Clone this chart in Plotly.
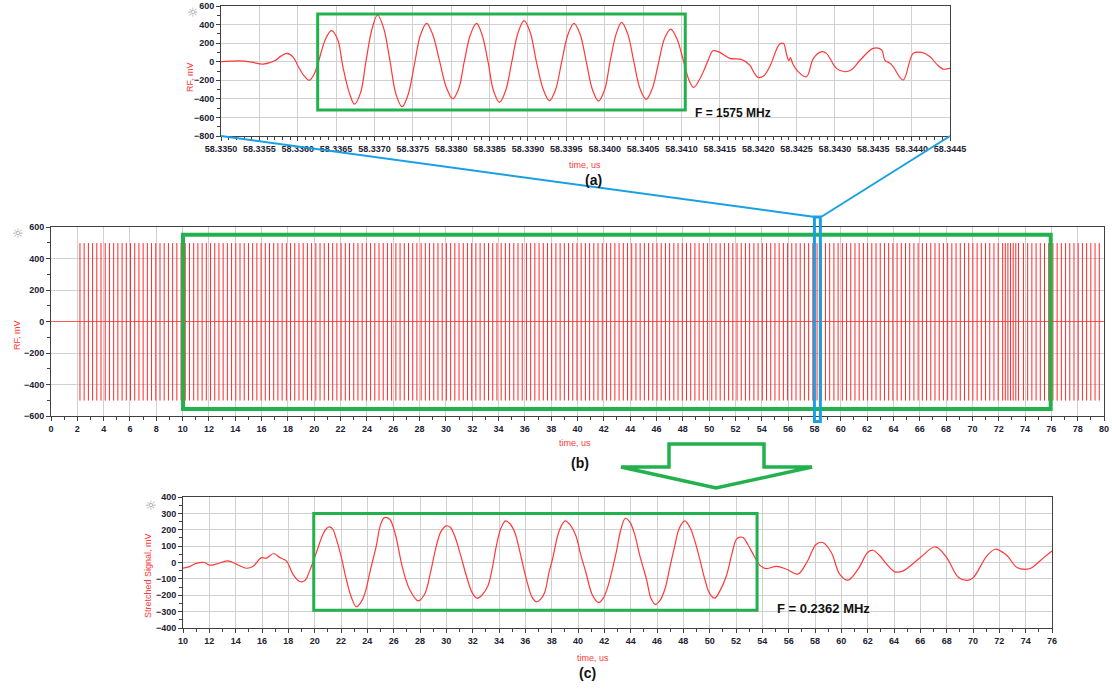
import plotly.graph_objects as go

W, H = 1112, 689

# ---------------- (a) RF burst around 58.335-58.3445 us ----------------
T_A = [58.33500, 58.33525, 58.33540, 58.33555, 58.33570, 58.33578, 58.33586,
       58.33594, 58.33600, 58.33608, 58.33615, 58.33621, 58.33627, 58.33636,
       58.33644, 58.33652, 58.33659, 58.33667, 58.33674, 58.33682, 58.33689,
       58.33697, 58.33704, 58.33712, 58.33720, 58.33728, 58.33736, 58.33744,
       58.33752, 58.33760, 58.33768, 58.33776, 58.33785, 58.33794, 58.33802,
       58.33810, 58.33817, 58.33825, 58.33833, 58.33840, 58.33848, 58.33855,
       58.33863, 58.33871, 58.33879, 58.33887, 58.33895, 58.33903, 58.33911,
       58.33920, 58.33928, 58.33936, 58.33944, 58.33952, 58.33960, 58.33968,
       58.33976, 58.33984, 58.33992, 58.34000, 58.34007, 58.34015, 58.34022,
       58.34030, 58.34038, 58.34046, 58.34054, 58.34062, 58.34070, 58.34078,
       58.34086, 58.34094, 58.34103, 58.34110, 58.34116, 58.34123, 58.34130,
       58.34136, 58.34141, 58.34150, 58.34163, 58.34178, 58.34189, 58.34194,
       58.34200, 58.34207, 58.34215, 58.34228, 58.34233, 58.34237, 58.34240,
       58.34242, 58.34245, 58.34251, 58.34263, 58.34272, 58.34283, 58.34289,
       58.34302, 58.34313, 58.34322, 58.34333, 58.34350, 58.34361, 58.34365,
       58.34372, 58.34376, 58.34389, 58.34402, 58.34413, 58.34424, 58.34433,
       58.34441, 58.34450]
V_A = [0, 8, -5, -25, 10, 60, 90,
       50, -40, -150, -200, -140, 0, 240,
       334, 240, -60, -330, -456, -330, 10,
       360, 503, 360, 20, -350, -485, -350,
       -30, 290, 413, 290, 0, -285, -399,
       -285, 0, 290, 413, 295, 0, -310,
       -438, -310, 0, 310, 442, 315, 0,
       -300, -420, -300, 0, 290, 413, 295,
       0, -300, -424, -300, 0, 300, 424,
       300, 0, -290, -406, -290, -20, 250,
       352, 250, 0, -200, -276, -200, -80,
       40, 118, 100, 36, 25, -36, -108,
       -169, -154, -54, 190, 197, 80, 10,
       45, -20, -97, -162, 36, 108, 90,
       -72, -108, -83, 18, 144, 126, 18,
       -18, -54, -197, 90, 100, 54, -29,
       -79, -72]

# ---------------- (b) full pulse train, 0-80 us ----------------
PULSE_T = [
    2.20, 2.52, 2.84, 3.16, 3.48, 3.80, 4.12, 4.44, 4.76, 5.08, 5.40, 5.72, 6.04,
    6.36, 6.68, 7.00, 7.32, 7.64, 7.96, 8.28, 8.60, 8.92, 9.24, 9.56, 9.88,
    10.20, 10.52, 10.84, 11.16, 11.48, 11.80, 12.12, 12.44, 12.76, 13.08, 13.40,
    13.72, 14.04, 14.36, 14.68, 15.00, 15.32, 15.64, 15.96, 16.28, 16.60, 16.92,
    17.24, 17.56, 17.88,
    18.20, 18.52, 18.84, 19.16, 19.48, 19.80, 20.12, 20.44, 20.76, 21.08, 21.40,
    21.72, 22.04, 22.36, 22.68, 23.00, 23.32, 23.64, 23.96, 24.28, 24.60, 24.92,
    25.24, 25.56, 25.88,
    26.20, 26.52, 26.84, 27.16, 27.48, 27.80, 28.12, 28.44, 28.76, 29.08, 29.40,
    29.72, 30.04, 30.36, 30.68, 31.00, 31.32, 31.64, 31.96, 32.28, 32.60, 32.92,
    33.24, 33.56, 33.88,
    34.20, 34.52, 34.84, 35.16, 35.48, 35.80, 36.12, 36.44, 36.76, 37.08, 37.40,
    37.72, 38.04, 38.36, 38.68, 39.00, 39.32, 39.64, 39.96, 40.28, 40.60, 40.92,
    41.24, 41.56, 41.88,
    42.20, 42.52, 42.84, 43.16, 43.48, 43.80, 44.12, 44.44, 44.76, 45.08, 45.40,
    45.72, 46.04, 46.36, 46.68, 47.00, 47.32, 47.64, 47.96, 48.28, 48.60, 48.92,
    49.24, 49.56, 49.88,
    50.20, 50.52, 50.84, 51.16, 51.48, 51.80, 52.12, 52.44, 52.76, 53.08, 53.40,
    53.72, 54.04, 54.36, 54.68, 55.00, 55.32, 55.64, 55.96, 56.28, 56.60, 56.92,
    57.24, 57.56, 57.88,
    58.20, 58.52, 58.84, 59.16, 59.48, 59.80, 60.12, 60.44, 60.76, 61.08, 61.40,
    61.72, 62.04, 62.36, 62.68, 63.00, 63.32, 63.64, 63.96, 64.28, 64.60, 64.92,
    65.24, 65.56, 65.88,
    66.20, 66.52, 66.84, 67.16, 67.48, 67.80, 68.12, 68.44, 68.76, 69.08, 69.40,
    69.72, 70.04, 70.36, 70.68, 71.00, 71.32, 71.64, 71.96, 72.30, 72.50, 72.70,
    72.90, 73.10, 73.30, 73.50, 73.88,
    74.20, 74.52, 74.84, 75.16, 75.48, 75.80, 76.12, 76.44, 76.76, 77.08, 77.40,
    77.72, 78.04, 78.36, 78.68, 79.00, 79.32, 79.64,
]
PULSE_TOP = 498
PULSE_BOTTOM = -502

# ---------------- (c) time-stretched signal ----------------
T_C = [10.0, 10.5, 11.0, 11.65, 12.0, 12.5, 13.4, 14.05, 14.8, 15.3, 15.95, 16.3,
       16.9, 17.35, 17.85, 18.35, 18.86, 19.24, 19.75, 20.13, 20.63, 20.9, 21.14,
       21.4, 21.57, 22.0, 22.4, 22.8, 23.16, 23.5, 23.8, 24.25, 24.68, 25.0, 25.3,
       25.7, 26.1, 26.7, 27.2, 27.85, 28.35, 28.8, 29.24, 29.6, 30.0, 30.3, 30.63,
       31.1, 31.52, 32.0, 32.35, 32.7, 33.16, 33.5, 33.8, 34.15, 34.5, 34.85, 35.2,
       35.6, 36.08, 36.5, 36.84, 37.15, 37.47, 37.8, 38.06, 38.6, 39.03, 39.4,
       39.84, 40.2, 40.6, 41.1, 41.56, 41.9, 42.25, 42.9, 43.25, 43.6, 43.95, 44.3,
       44.7, 45.2, 45.55, 45.88, 46.2, 46.6, 47.0, 47.35, 47.7, 48.1, 48.5, 48.87,
       49.25, 49.63, 50.0, 50.38, 50.8, 51.27, 51.65, 52.03, 52.3, 52.55, 52.9,
       53.3, 53.8, 54.3, 55.08, 55.84, 56.7, 57.37, 58.1, 58.6, 59.24, 59.87, 60.5,
       61.27, 62.0, 62.4, 62.93, 63.44, 64.08, 64.7, 66.0, 67.14, 68.0, 68.9,
       69.66, 70.04, 71.06, 71.7, 72.08, 72.6, 73.34, 74.1, 74.5, 75.37, 76.0]
V_C = [-35, -25, -5, 0, -16, -10, 10, -10, -35, -25, 30, 26,
       55, 30, 10, -71, -116, -112, -24, 61, 173, 208, 217,
       200, 163, 40, -102, -215, -270, -245, -192, -40, 102, 230, 274,
       264, 180, -41, -163, -234, -194, -60, 102, 190, 224, 215, 163,
       40, -81, -190, -218, -200, -142, -30, 102, 210, 254, 235, 183,
       60, -102, -210, -240, -225, -183, -60, 20, 200, 254, 230,
       163, 50, -61, -200, -244, -220, -152, 61, 200, 270, 245, 173,
       40, -102, -220, -256, -235, -163, -20, 102, 210, 254, 215, 132,
       20, -102, -190, -218, -170, -81, 40, 142, 155, 152, 110,
       51, -16, -37, -24, -41, -71, 0, 112, 122, 61, -71, -108,
       -41, 61, 75, 41, -10, -57, -51, 30, 96, 30, -91,
       -108, -91, 41, 81, 71, 41, -30, -41, -30, 30, 71]

RED = "#ff3838"
GREEN = "#22b14c"
BLUE = "#1aa0e2"
FONT = "Liberation Sans, Arial, sans-serif"


def px(x):
    return x / W


def py(y):
    return 1 - y / H


fig = go.Figure()

fig.add_trace(go.Scatter(
    x=T_A, y=V_A, mode="lines", xaxis="x", yaxis="y",
    line=dict(color=RED, width=1.2, shape="spline", smoothing=1.0),
    hoverinfo="skip"))

fig.add_trace(go.Scatter(
    x=[0, 80], y=[0, 0], mode="lines", xaxis="x2", yaxis="y2",
    line=dict(color="#ff5a5a", width=1), hoverinfo="skip"))

pulse_x, pulse_y = [], []
for t in PULSE_T:
    pulse_x += [t, t, None]
    pulse_y += [PULSE_BOTTOM, PULSE_TOP, None]
fig.add_trace(go.Scatter(
    x=pulse_x, y=pulse_y, mode="lines", xaxis="x2", yaxis="y2",
    line=dict(color="#ff2a2a", width=1), hoverinfo="skip"))

fig.add_trace(go.Scatter(
    x=T_C, y=V_C, mode="lines", xaxis="x3", yaxis="y3",
    line=dict(color=RED, width=1.2, shape="spline", smoothing=1.0),
    hoverinfo="skip"))

tick_font = dict(family=FONT, size=9, color="#222233", weight="bold")


def axis(domain, rng, dtick, minor, anchor, **kw):
    d = dict(
        domain=domain, range=rng, dtick=dtick, anchor=anchor, automargin=False,
        showline=True, linecolor="#404040", linewidth=1, mirror=True,
        ticks="outside", ticklen=4, tickcolor="#404040",
        showgrid=True, gridcolor="#d0d0d0", gridwidth=1, zeroline=False,
        tickfont=tick_font, fixedrange=True,
        minor=dict(dtick=minor, ticks="outside", ticklen=3,
                   tickcolor="#404040", showgrid=False),
    )
    d.update(kw)
    return d


fig.update_layout(
    width=W, height=H, margin=dict(l=0, r=0, t=0, b=0, autoexpand=False),
    paper_bgcolor="white", plot_bgcolor="white", showlegend=False,
    xaxis=axis([px(221), px(950)], [58.3350, 58.3445], 0.0005, 0.0001, "y",
               tick0=58.335, tickformat=".4f"),
    yaxis=axis([py(136), py(6)], [-800, 600], 200, 100, "x"),
    xaxis2=axis([px(51), px(1104)], [0, 80], 2, 1, "y2"),
    yaxis2=axis([py(416), py(227)], [-600, 600], 200, 100, "x2"),
    xaxis3=axis([px(183), px(1052)], [10, 76], 2, 1, "y3"),
    yaxis3=axis([py(628), py(497)], [-400, 400], 100, 50, "x3"),
)

shapes = [
    # highlighted 1575 MHz burst
    dict(type="rect", xref="x", yref="y", x0=58.33626, x1=58.34105,
         y0=-520, y1=514, line=dict(color=GREEN, width=3)),
    # analysed pulse-train window
    dict(type="rect", xref="x2", yref="y2", x0=10.03, x1=75.95,
         y0=-555, y1=551, line=dict(color=GREEN, width=4)),
    # stretched burst
    dict(type="rect", xref="x3", yref="y3", x0=19.93, x1=53.6,
         y0=-292, y1=300, line=dict(color=GREEN, width=3)),
    # zoom window on the pulse train
    dict(type="rect", xref="x2", yref="paper", x0=58.0, x1=58.45,
         y0=py(421.5), y1=py(217), line=dict(color=BLUE, width=3)),
    # zoom connectors
    dict(type="line", xref="paper", yref="paper", x0=px(221), y0=py(136),
         x1=px(815), y1=py(217), line=dict(color=BLUE, width=2)),
    dict(type="line", xref="paper", yref="paper", x0=px(950), y0=py(136),
         x1=px(821), y1=py(217), line=dict(color=BLUE, width=2)),
]

arrow_pts = [(669, 444), (764, 444), (764, 467), (812, 467), (716, 488),
             (621, 467), (669, 467)]
path = "M " + " L ".join(f"{px(x):.5f},{py(y):.5f}" for x, y in arrow_pts) + " Z"
shapes.append(dict(type="path", xref="paper", yref="paper", path=path,
                   fillcolor="white", line=dict(color=GREEN, width=3.5)))
fig.update_layout(shapes=shapes)


def note(x, y, text, size=9, color=RED, angle=0, bold=False, xanchor="center",
         family=FONT):
    fig.add_annotation(
        x=px(x), y=py(y), xref="paper", yref="paper", text=text,
        showarrow=False, textangle=angle, xanchor=xanchor, yanchor="middle",
        font=dict(family=family, size=size, color=color,
                  weight="bold" if bold else "normal"))


# panel (a)
note(193, 13, "☼", size=13, color="#9a9a9a", family="DejaVu Sans")
note(190, 77, "RF, mV", size=9, angle=-90)
note(585, 165, "time, us", size=9)
note(593, 180, "(a)", size=14, color="#111", bold=True)
note(693, 113, "F = 1575 MHz", size=12, color="#111", bold=True, xanchor="left")

# panel (b)
note(18, 234, "☼", size=13, color="#9a9a9a", family="DejaVu Sans")
note(17, 335, "RF, mV", size=9, angle=-90)
note(575, 443, "time, us", size=9)
note(580, 463, "(b)", size=14, color="#111", bold=True)

# panel (c)
note(151, 505, "☼", size=13, color="#9a9a9a", family="DejaVu Sans")
note(148, 576, "Stretched Signal, mV", size=9, angle=-90)
note(593, 658, "time, us", size=9)
note(587, 673, "(c)", size=14, color="#111", bold=True)
note(775, 608, "F = 0.2362 MHz", size=13, color="#111", bold=True, xanchor="left")

fig.write_html("out.html")
